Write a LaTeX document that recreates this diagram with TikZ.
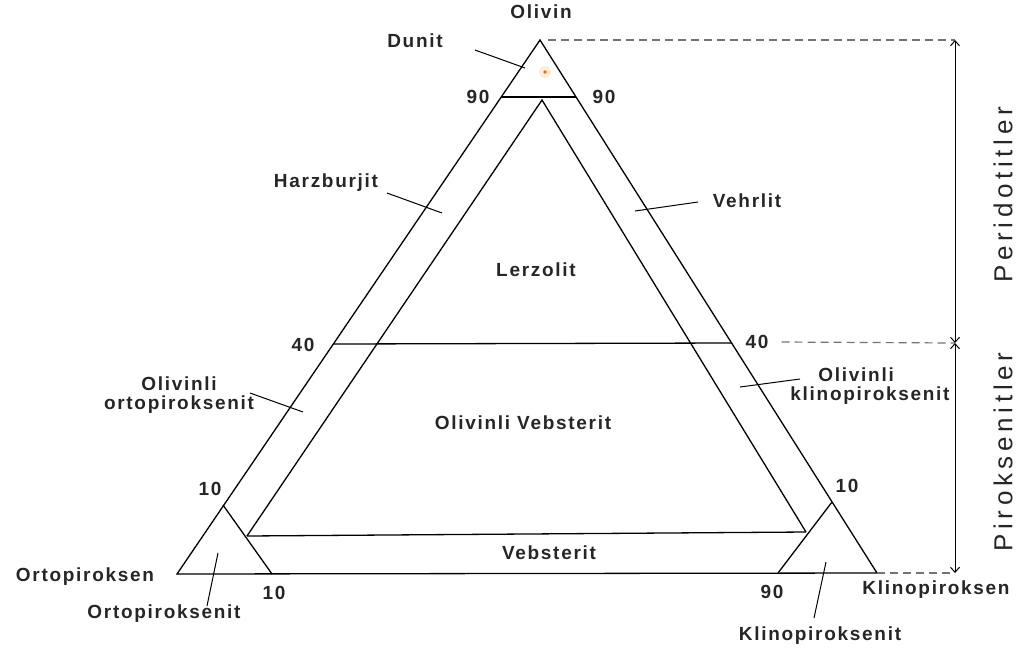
\documentclass[tikz,border=0pt]{standalone}
\usepackage{fontspec}
\usetikzlibrary{arrows.meta}
\newfontfamily\lab{Liberation Sans Bold}[LetterSpace=9]
\newfontfamily\sidelab{Liberation Sans}[LetterSpace=18]
\begin{document}
\begin{tikzpicture}[x=1pt,y=-1pt,
  edge/.style={line width=1.3pt,black},
  lbl/.style={font=\lab\fontsize{19}{21}\selectfont,inner sep=0pt,text=black!85},
  side/.style={font=\sidelab\fontsize{26}{28}\selectfont,inner sep=0pt,text=black!85,rotate=90},
  lead/.style={line width=1pt,black},
  guide/.style={line width=1.2pt,black!55,dash pattern=on 8pt off 5pt},
  barb/.style={line width=1pt,black,{Straight Barb[length=5pt,width=9pt]}-{Straight Barb[length=5pt,width=9pt]}}]
\useasboundingbox (0,0) rectangle (1019,651);
% triangle points
\coordinate (O) at (540,40);
\coordinate (L) at (177,574);
\coordinate (R) at (877,573);
\coordinate (D1) at (501,97);
\coordinate (D2) at (576,97);
\coordinate (I) at (542,100);
\coordinate (IL) at (247,536);
\coordinate (IR) at (806,532);
\coordinate (F1) at (333,344);
\coordinate (F2) at (732,343);
\coordinate (T1) at (223,505);
\coordinate (T2) at (272,574);
\coordinate (K1) at (832,502);
\coordinate (K2) at (778,573);
\coordinate (V1) at (955,40);
\coordinate (V2) at (955,343);
\coordinate (V3) at (955,573);
% dunite dot
\fill[orange!15] (545,72) circle (6pt);
\fill[orange!80!red] (545,72) circle (1.8pt);
% lines
\draw[edge] (O) -- (L) -- (R) -- cycle;
\draw[edge] (D1) -- (D2);
\draw[edge] (IL) -- (I) -- (IR);
\draw[edge] (IL) -- (IR);
\draw[edge] (F1) -- (F2);
\draw[edge] (T1) -- (T2);
\draw[edge] (K1) -- (K2);
% labels
\node[lbl] (olivin) at (541,12) {Olivin};
\node[lbl] (dunit) at (415,41) {Dunit};
\node[lbl] (n90l) at (478,97) {90};
\node[lbl] (n90r) at (604,97) {90};
\node[lbl] (harz) at (326,183) {Harzburjit};
\node[lbl] (vehr) at (747,201) {Vehrlit};
\node[lbl] (lerz) at (536,270) {Lerzolit};
\node[lbl] (n40l) at (303,345) {40};
\node[lbl] (n40r) at (757,342) {40};
\node[lbl,align=center] (oop) at (179,395) {Olivinli\\[-2pt]ortopiroksenit};
\node[lbl,align=left] (okp) at (870,386) {\hspace*{28pt}Olivinli\\[-2pt]klinopiroksenit};
\node[lbl] (ovb) at (523,423) {Olivinli Vebsterit};
\node[lbl] (vb) at (549,553) {Vebsterit};
\node[lbl] (n10l) at (210,489) {10};
\node[lbl] (n10b) at (274,593) {10};
\node[lbl] (n10r) at (847,486) {10};
\node[lbl] (n90b) at (772,592) {90};
\node[lbl] (opx) at (85,577) {Ortopiroksen};
\node[lbl] (cpx) at (936,590) {Klinopiroksen};
\node[lbl] (opxit) at (164,614) {Ortopiroksenit};
\node[lbl] (cpxit) at (820,636) {Klinopiroksenit};
\node[side] (perid) at (1003,195) {Peridotitler};
\node[side] (pirok) at (1003,452) {Piroksenitler};
% leader lines
\coordinate (dunitA) at (475,50);   \coordinate (dunitP) at (525,68);
\coordinate (harzA) at (387,193);   \coordinate (harzP) at (442,213);
\coordinate (vehrA) at (698,202);   \coordinate (vehrP) at (635,211);
\coordinate (oopA) at (250,393);    \coordinate (oopP) at (303,412);
\coordinate (okpA) at (800,379);    \coordinate (okpP) at (740,387);
\coordinate (opxitA) at (207,606);  \coordinate (opxitP) at (218,553);
\coordinate (cpxitA) at (814,618);  \coordinate (cpxitP) at (826,562);
\draw[lead] (dunitA) -- (dunitP);
\draw[lead] (harzA) -- (harzP);
\draw[lead] (vehrA) -- (vehrP);
\draw[lead] (oopA) -- (oopP);
\draw[lead] (okpA) -- (okpP);
\draw[lead] (opxitA) -- (opxitP);
\draw[lead] (cpxitA) -- (cpxitP);
% guides
\draw[guide] ([xshift=8pt]O) -- (V1);
\draw[guide] ([xshift=13pt]n40r.east) -- (V2);
\draw[guide] (R) -- (V3);
\draw[barb] (V1) -- (V2);
\draw[barb] (V2) -- (V3);
\end{tikzpicture}
\end{document}
